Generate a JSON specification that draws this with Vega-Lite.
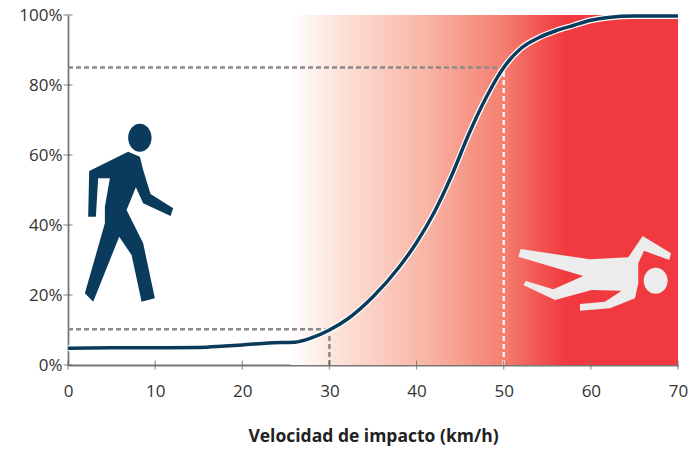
{
"$schema":"https://vega.github.io/schema/vega-lite/v6.json",
"width":610,"height":350,"autosize":"none",
"padding":{"left":68,"top":15,"right":13,"bottom":86},
"background":"white",
"config":{"view":{"stroke":null},"font":"Open Sans"},
"encoding":{
"x":{"field":"speed","type":"quantitative","scale":{"domain":[0,70],"nice":false},
"axis":{"title":"Velocidad de impacto (km/h)","values":[0,10,20,30,40,50,60,70],"grid":false,"ticks":false,"domainColor":"#777777","domainWidth":1.8,"labelFont":"Open Sans","labelFontSize":17,"labelColor":"#333333","labelPadding":18,"labelFlush":false,"titleFont":"Open Sans","titleFontSize":17.5,"titleFontWeight":"bold","titleColor":"#222222","titlePadding":28}},
"y":{"field":"pct","type":"quantitative","scale":{"domain":[0,100],"nice":false},
"axis":{"title":null,"values":[0,20,40,60,80,100],"grid":false,"ticks":false,"domainColor":"#777777","domainWidth":1.8,"labelFont":"Open Sans","labelFontSize":17,"labelColor":"#333333","labelPadding":6,"labelExpr":"datum.value+'%'"}}
},
"layer":[
{"data":{"values":[{"speed":25.5,"speed2":70,"pct":0,"pct2":100}]},
"mark":{"type":"rect","color":{"gradient":"linear","x1":0,"x2":1,"y1":0,"y2":0,"stops":[{"offset":0,"color":"#ffffff"},{"offset":0.12,"color":"#fde3da"},{"offset":0.35,"color":"#f9b5a5"},{"offset":0.55,"color":"#f47f70"},{"offset":0.63,"color":"#f25a55"},{"offset":0.71,"color":"#f03a3f"},{"offset":1,"color":"#f03a3f"}]}},
"encoding":{"x2":{"field":"speed2"},"y2":{"field":"pct2"}}},
{"data":{"values":[{"speed":0,"pct":10.2,"speed2":30,"pct2":10.2},{"speed":30,"pct":0,"speed2":30,"pct2":10.2},{"speed":0,"pct":85,"speed2":50,"pct2":85}]},
"mark":{"type":"rule","color":"#8a8a8a","strokeWidth":2.5,"strokeDash":[5,3]},
"encoding":{"x2":{"field":"speed2"},"y2":{"field":"pct2"}}},
{"data":{"values":[{"speed":50,"pct":0,"speed2":50,"pct2":85}]},
"mark":{"type":"rule","color":"#f4f4f4","strokeWidth":2.5,"strokeDash":[5,3]},
"encoding":{"x2":{"field":"speed2"},"y2":{"field":"pct2"}}},
{"data":{"name":"curve","values":[{"speed":0,"pct":4.8},{"speed":5,"pct":4.9},{"speed":10,"pct":4.9},{"speed":15,"pct":5},{"speed":18,"pct":5.4},{"speed":20,"pct":5.7},{"speed":23,"pct":6.3},{"speed":26,"pct":6.5},{"speed":28,"pct":7.8},{"speed":30,"pct":10},{"speed":32,"pct":13},{"speed":35,"pct":19.5},{"speed":38,"pct":28},{"speed":40,"pct":35},{"speed":42,"pct":43.5},{"speed":44,"pct":54},{"speed":46,"pct":66},{"speed":48,"pct":76.5},{"speed":50,"pct":85},{"speed":52,"pct":90.5},{"speed":54,"pct":93.5},{"speed":56,"pct":95.5},{"speed":58,"pct":97},{"speed":60,"pct":98.5},{"speed":62,"pct":99.3},{"speed":65,"pct":99.7},{"speed":70,"pct":99.7}]},
"mark":{"type":"line","color":"#ffffff","strokeWidth":6,"interpolate":"monotone"}},
{"data":{"name":"curve"},
"mark":{"type":"line","color":"#0a3a5c","strokeWidth":3.5,"interpolate":"monotone"}},
{"data":{"values":[{"speed":0,"pct":0},{"speed":10,"pct":0},{"speed":20,"pct":0},{"speed":30,"pct":0},{"speed":40,"pct":0},{"speed":50,"pct":0},{"speed":60,"pct":0},{"speed":70,"pct":0}]},
"mark":{"type":"tick","orient":"vertical","size":9,"thickness":1.2,"color":"#666666"}},
{"data":{"values":[{"speed":0,"pct":0},{"speed":0,"pct":20},{"speed":0,"pct":40},{"speed":0,"pct":60},{"speed":0,"pct":80},{"speed":0,"pct":100}]},
"mark":{"type":"tick","orient":"horizontal","size":9,"thickness":1.2,"color":"#666666"}},
{"data":{"values":[{"speed":7.1,"pct":43.7}]},
"mark":{"type":"point","filled":true,"opacity":1,"size":40000,"color":"#0a3a5c","strokeWidth":0,
"shape":"M-.407 -.41L-.017 -.603L.1 -.553L.133 -.42L.207 -.18L.433 -.037L.407 .04L.133 -.087L.06 -.247L-.033 -.02L.133 .313L.25 .863L.117 .897L.017 .43L-.107 .247L-.367 .897L-.45 .813L-.25 .113L-.25 -.053L-.2 -.337L-.317 -.337L-.34 .047L-.417 .047ZM-.017 -.743A.117 .14 0 1 0 .217 -.743A.117 .14 0 1 0 -.017 -.743Z"}},
{"data":{"values":[{"speed":59.9,"pct":25.7}]},
"mark":{"type":"point","filled":true,"opacity":1,"size":40000,"color":"#ececec","strokeWidth":0,
"shape":"M-.693 -.26L0 -.157L.383 -.177L.527 -.39L.81 -.217L.793 -.15L.54 -.243L.483 -.117L.483 .083L.45 .233L.2 .333L-.1 .357L-.1 .29L.15 .267L.317 .157L.017 .15L-.35 .25L-.667 .1L-.64 .06L-.367 .143L-.067 .01L-.717 -.183ZM.537 .057A.12 .13 0 1 0 .777 .057A.12 .13 0 1 0 .537 .057Z"}}
]
}
